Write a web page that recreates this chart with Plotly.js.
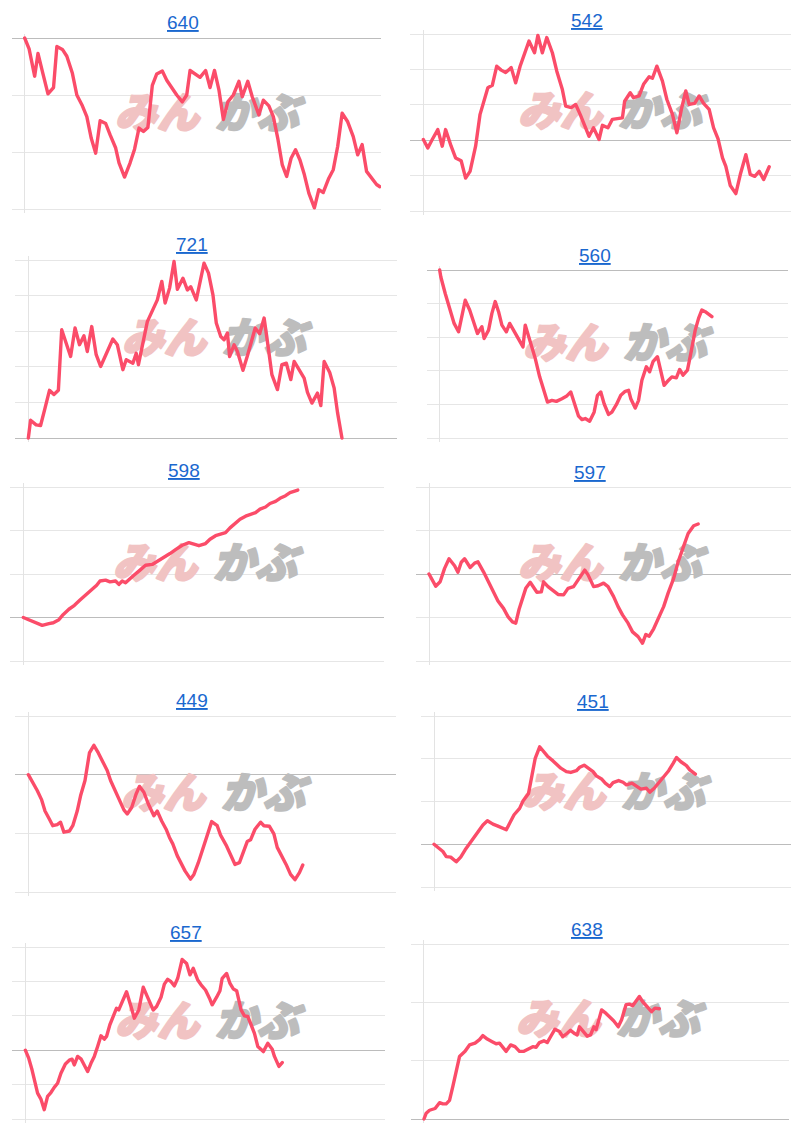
<!DOCTYPE html>
<html>
<head>
<meta charset="utf-8">
<script src="https://cdn.plot.ly/plotly-3.0.1.min.js"></script>
<style>
html,body{margin:0;padding:0;background:#fff;}
#chart{width:800px;height:1134px;}
#chart .scatterlayer .js-line{stroke-linejoin:round;stroke-linecap:round;}
</style>
</head>
<body>
<div id="chart"></div>
<script>
// ---- data ----
const titles = ['640','542','721','560','598','597','449','451','657','638'];

const t1 = [0,4,9,12,16,21,26,29,34,38,43,47,52,56,60,64,68,73,77,82,85,90,95,99,103,107,111,115,119,124,128,133,137,142,146,149,154,158,163,167,171,175,179,183,188,193,196,201,205,211,215,220,224,228,232,236,240,244,248,252,256,261,265,269,274,278,282,286,291,296,300,304,308,313,317,320];
const v1 = [0,-1.9,-6.7,-2.7,-5.9,-9.8,-8.7,-1.5,-2.0,-3.2,-6.2,-10.0,-11.9,-13.8,-17.6,-20.2,-14.5,-15.0,-17.0,-19.3,-21.9,-24.4,-21.9,-19.5,-15.8,-16.4,-15.7,-8.3,-6.3,-5.8,-7.4,-9.0,-10.0,-11.2,-10.0,-5.7,-6.3,-6.9,-5.7,-8.7,-5.7,-9.1,-14.3,-11.2,-10.0,-7.6,-10.3,-7.6,-10.3,-13.5,-10.9,-11.9,-13.8,-17.6,-22.2,-24.3,-21.1,-19.6,-21.4,-24.0,-27.2,-29.8,-26.6,-27.1,-24.6,-23.1,-19.0,-13.2,-14.7,-17.3,-20.5,-18.7,-23.4,-24.6,-25.7,-26.1];

const t2 = [0,4,8,13,17,20,25,29,34,38,42,47,51,55,58,62,66,70,74,79,83,87,91,95,100,103,107,111,116,120,125,128,133,137,141,146,149,153,158,161,166,170,174,179,181,186,189,194,198,203,206,210,215,219,224,228,232,236,239,244,248,252,257,261,265,269,272,276,281,285,290,294,298,302,306,311];
const v2 = [0.2,-2.2,0.2,3.0,-1.7,3.0,-1.7,-5.0,-5.8,-10.7,-8.8,-1.7,7.3,12.0,14.8,15.5,20.9,19.8,19.1,20.5,16.2,20.9,24.7,28.0,24.7,29.6,24.7,29.0,24.7,19.5,14.3,9.6,9.2,10.1,7.3,3.5,1.1,3.5,0.2,4.2,3.5,5.9,6.0,6.3,11.0,13.4,12.0,12.5,15.8,17.9,17.5,20.9,16.7,11.5,7.3,2.1,8.7,13.9,10.1,10.4,12.5,10.4,8.7,3.5,0.4,-5.0,-7.4,-12.8,-15.1,-9.7,-4.1,-9.7,-10.2,-8.8,-11.1,-7.5];

const t3 = [0,2,7,11,15,19,23,27,30,34,38,42,46,50,53,57,61,65,69,73,76,80,85,88,92,94,97,99,107,113,116,120,123,127,131,134,139,143,146,151,158,162,166,169,173,176,179,181,185,188,193,197,200,204,208,212,216,219,224,228,232,236,239,243,248,251,255,260,263,266,271,275,278,282];
const v3 = [0,5.0,3.7,3.5,8.4,13.4,12.2,13.4,30.4,26.7,22.9,30.9,26.2,28.7,24.3,31.3,23.4,20.1,22.9,26.2,27.8,26.2,19.2,22.0,21.5,21.0,23.8,20.6,32.7,36.5,38.8,44.0,37.9,42.1,49.6,41.8,44.9,41.6,42.5,38.8,49.1,46.3,40.2,32.3,28.5,27.6,29.5,22.9,26.2,24.3,19.0,23.1,26.7,30.9,29.3,33.7,24.8,17.8,13.6,20.6,21.0,16.4,21.5,19.2,16.8,12.8,9.8,12.6,9.1,21.5,18.4,14.0,7.2,0];

const t4 = [0,1,5,9,13,17,20,23,27,31,34,38,40,44,47,50,53,56,60,63,68,72,75,77,81,86,90,94,97,101,105,110,114,118,122,125,128,131,135,139,142,145,148,152,155,159,163,167,170,172,176,179,182,186,189,192,196,199,202,206,209,213,216,219,223,226,230,233,236,239,245];
const v4 = [0,-2.0,-7.0,-11.9,-15.9,-18.4,-13.9,-9.0,-11.9,-16.4,-18.9,-16.9,-20.4,-17.9,-12.9,-9.4,-12.4,-16.4,-18.4,-15.9,-18.9,-21.4,-22.9,-16.4,-20.9,-26.3,-31.8,-36.3,-39.3,-38.8,-39.1,-38.3,-37.6,-36.3,-40.3,-43.5,-44.5,-44.2,-45.0,-42.3,-37.3,-36.3,-39.8,-43.0,-42.3,-40.1,-37.3,-36.1,-35.8,-38.3,-41.1,-38.8,-32.8,-28.8,-30.3,-27.3,-25.8,-30.3,-34.3,-32.8,-31.8,-32.1,-29.6,-31.3,-29.8,-24.9,-17.9,-14.4,-11.9,-12.4,-13.9];

const t5 = [0,6,12,17,23,27,32,36,41,46,51,56,62,66,69,74,78,83,86,89,92,95,99,105,110,116,120,126,132,137,143,149,154,158,164,168,173,177,182,186,191,195,200,205,209,213,218,222,227,231,236,240,245,247];
const v5 = [0,-0.6,-1.2,-1.8,-1.4,-1.2,-0.5,0.7,1.9,2.8,4.0,5.1,6.4,7.4,8.4,8.6,8.2,8.4,7.6,8.4,8.0,8.6,9.6,10.9,12.0,12.2,12.8,13.9,14.7,15.6,16.6,17.2,16.9,16.5,17.0,18.0,18.8,19.1,19.5,20.6,21.6,22.6,23.3,23.7,24.1,24.9,25.4,26.2,26.7,27.4,28.0,28.7,29.2,29.3];

const t6 = [0,3,6,10,14,18,23,26,29,32,37,41,44,49,53,58,62,67,71,75,78,81,84,87,91,94,97,101,103,107,112,116,121,125,130,134,140,143,148,152,157,161,166,170,174,179,183,188,192,195,198,202,206,211,215,220,224,229,233,238,242];
const v6 = [0,-1.6,-2.8,-1.8,1.3,3.5,1.9,0.4,2.7,3.5,1.5,2.5,2.8,0.5,-1.6,-4.1,-6.2,-7.9,-9.8,-11.0,-11.3,-8.1,-5.6,-3.3,-1.9,-2.9,-4.2,-4.1,-1.8,-2.9,-3.9,-4.7,-4.8,-3.3,-2.9,-1.4,0.9,-0.2,-2.9,-2.7,-2.1,-2.9,-5.2,-7.5,-9.4,-11.3,-13.3,-14.4,-15.9,-13.9,-14.3,-12.6,-10.2,-7.5,-4.4,-1.0,2.8,6.3,9.3,11.1,11.5];

const t7 = [0,4,8,12,15,19,22,26,29,32,37,40,44,47,51,55,59,63,67,71,74,78,82,86,89,93,97,100,104,108,113,116,120,124,127,130,134,137,141,146,149,153,157,161,165,170,173,178,182,186,190,194,197,200,204,209,212,217,221,224,228,232,236,240,244,247];
const v7 = [0,-1.3,-2.7,-4.3,-6.2,-7.6,-8.7,-8.5,-8.1,-9.8,-9.6,-8.7,-6.2,-3.6,-1.0,3.7,5.0,3.7,2.1,0.7,-1.0,-2.7,-4.4,-6.0,-6.7,-5.6,-3.3,-2.0,-3.0,-5.0,-7.0,-6.2,-7.9,-9.3,-10.7,-11.8,-13.8,-15.0,-16.4,-17.8,-17.0,-15.0,-12.7,-10.1,-8.0,-8.7,-10.3,-12.0,-13.5,-15.3,-15.0,-12.7,-11.4,-11.1,-9.3,-8.1,-8.7,-8.8,-10.1,-12.4,-13.8,-15.3,-17.0,-17.9,-16.7,-15.4];

const t8 = [0,4,8,11,15,20,24,28,32,36,41,44,48,53,57,61,65,68,72,77,80,85,88,91,95,98,102,107,110,114,119,123,128,131,135,139,143,146,151,154,158,161,166,170,173,178,182,186,191,194,198,202,206,211,215,218,222,227,230,235];
const v8 = [0,-0.9,-1.7,-2.9,-3.0,-4.1,-3.0,-1.3,0.2,1.8,3.4,4.5,5.5,4.7,4.3,3.9,3.4,4.9,6.9,8.4,10.1,11.9,15.8,20.1,22.8,21.9,20.6,19.5,18.8,17.8,17.0,16.8,17.2,18.0,18.5,17.8,17.0,16.0,15.2,14.3,13.5,14.4,14.9,14.5,13.9,14.3,13.5,12.9,13.1,12.2,13.1,14.4,15.8,17.2,18.9,20.3,19.3,18.4,17.4,16.4];

const t9 = [0,3,6,9,11,14,17,20,23,26,29,32,36,40,42,44,47,50,53,56,59,62,65,68,71,73,76,80,82,84,87,91,95,98,102,106,109,113,115,118,122,125,128,131,134,137,141,145,148,151,155,158,162,166,168,172,175,177,181,184,187,190,194,197,200,203,206,209,214,218,222,224,228,231];
const v9 = [0,-2.3,-5.7,-9.6,-12.5,-14.2,-17.3,-13.4,-12.3,-10.8,-9.6,-6.7,-4.0,-2.8,-2.6,-4.3,-1.8,-2.5,-4.3,-6.2,-3.8,-1.8,1.1,4.2,3.2,4.0,7.4,10.3,12.2,11.7,14.1,17.0,12.7,9.3,11.7,18.3,16.1,13.2,11.7,12.7,15.4,19.2,20.6,19.9,18.7,20.9,26.4,25.2,21.9,23.8,20.4,19.0,17.5,14.8,13.2,15.4,17.3,20.9,22.3,19.4,17.8,17.3,11.7,10.0,9.8,7.4,4.9,1.1,-0.4,2.0,0.3,-1.8,-4.7,-3.6];

const t10 = [0,2,5,10,14,17,20,23,26,29,32,37,41,46,50,53,57,61,65,68,71,74,78,82,86,90,94,98,101,104,108,111,114,118,122,125,129,132,136,138,140,144,147,150,153,155,160,164,167,171,175,178,182,185,188,194,197,201,205,208,212];
const v10 = [0,1.0,1.5,1.8,2.8,2.6,2.6,3.2,5.6,8.4,10.7,11.6,12.7,13.0,13.6,14.3,13.7,13.3,12.9,13.0,12.4,11.6,12.7,12.4,11.6,11.6,12.0,12.4,12.3,13.1,13.4,13.1,14.1,15.4,15.0,14.1,14.7,15.2,14.6,14.4,15.8,15.0,14.2,14.4,15.8,15.3,18.7,18.1,17.6,16.8,15.8,17.0,19.6,19.7,19.4,21.0,20.1,19.3,18.4,19.0,18.9];

const series = [[t1,v1],[t2,v2],[t3,v3],[t4,v4],[t5,v5],[t6,v6],[t7,v7],[t8,v8],[t9,v9],[t10,v10]];
const gridRanges = [[-30,0],[-20,30],[0,50],[-50,0],[-10,30],[-20,20],[-20,10],[-10,30],[-20,30],[0,30]];
const timeRanges = [[-11.4,321],[-12,330.6],[-12,331.5],[-11.4,313.5],[-12,324.6],[-11.7,325.5],[-12,330.9],[-11.7,321],[-12,323.4],[-11.7,328.8]];
const watermark = ['みん', 'かぶ'];

// ---- layout geometry (pixels) ----
const W = 800, H = 1134, PAD = 4;
const boxes = [
  {l:12, r:381, t:38,  b:209,  tx:183, ty:22,  wx:207, wy:116},
  {l:410,r:791, t:34,  b:211,  tx:587, ty:20,  wx:610, wy:114},
  {l:15, r:397, t:260, b:438,  tx:192, ty:245, wx:214, wy:341},
  {l:427,r:788, t:270, b:438,  tx:595, ty:255, wx:615, wy:346},
  {l:10, r:384, t:487, b:661,  tx:184, ty:470, wx:205, wy:566},
  {l:416,r:791, t:487, b:661,  tx:590, ty:472, wx:610, wy:566},
  {l:15, r:396, t:716, b:892,  tx:192, ty:700, wx:213, wy:796},
  {l:421,r:791, t:716, b:887,  tx:593, ty:701, wx:613, wy:795},
  {l:12, r:385, t:947, b:1119, tx:186, ty:932, wx:207, wy:1024},
  {l:411,r:789, t:944, b:1119, tx:587, ty:929, wx:608, wy:1022}
];

const LINE = '#fb4c69';
const traces = [];
const layout = {
  width: W, height: H,
  margin: {l:0, r:0, t:0, b:0},
  paper_bgcolor: '#ffffff', plot_bgcolor: 'rgba(0,0,0,0)',
  showlegend: false, hovermode: false,
  annotations: [],
  font: {family: 'Liberation Sans, Arial, sans-serif'}
};
const WMFONT = "'Noto Sans CJK JP Black', 'Noto Sans CJK JP', sans-serif";

boxes.forEach((bx, i) => {
  const n = i === 0 ? '' : String(i + 1);
  const [y0, y1] = gridRanges[i];
  const [x0, x1] = timeRanges[i];
  const upp = (y1 - y0) / (bx.b - bx.t);
  layout['xaxis' + n] = {
    domain: [bx.l / W, bx.r / W], range: [x0, x1], anchor: 'y' + n,
    showgrid: false, showticklabels: false, ticks: '', showline: false,
    zeroline: true, zerolinecolor: '#e3e3e3', zerolinewidth: 1, fixedrange: true
  };
  layout['yaxis' + n] = {
    domain: [1 - (bx.b + PAD) / H, 1 - (bx.t - PAD) / H],
    range: [y0 - PAD * upp, y1 + PAD * upp], anchor: 'x' + n,
    tick0: 0, dtick: 10, showgrid: true, gridcolor: '#e6e6e6', gridwidth: 1,
    showticklabels: false, ticks: '', showline: false,
    zeroline: true, zerolinecolor: '#bcbcbc', zerolinewidth: 1, fixedrange: true
  };
  const px2x = p => x0 + (p - bx.l) / (bx.r - bx.l) * (x1 - x0);
  const py2y = p => y1 - (p - bx.t) / (bx.b - bx.t) * (y1 - y0);
  // watermark (drawn below the line)
  traces.push({
    type: 'scatter', mode: 'text', xaxis: 'x' + n, yaxis: 'y' + n,
    x: [px2x(bx.wx - 50)], y: [py2y(bx.wy + 1)], text: [watermark[0]],
    textposition: 'middle center', hoverinfo: 'skip', cliponaxis: false,
    textfont: {family: WMFONT, size: 42, color: '#f1c3c3', weight: 900, style: 'italic'}
  });
  traces.push({
    type: 'scatter', mode: 'text', xaxis: 'x' + n, yaxis: 'y' + n,
    x: [px2x(bx.wx + 50)], y: [py2y(bx.wy + 1)], text: [watermark[1]],
    textposition: 'middle center', hoverinfo: 'skip', cliponaxis: false,
    textfont: {family: WMFONT, size: 42, color: '#bdbdbd', weight: 900, style: 'italic'}
  });
  traces.push({
    type: 'scatter', mode: 'lines', xaxis: 'x' + n, yaxis: 'y' + n,
    x: series[i][0], y: series[i][1],
    line: {color: LINE, width: 3.4, shape: 'linear'}, hoverinfo: 'skip'
  });
  layout.annotations.push({
    text: titles[i], xref: 'paper', yref: 'paper',
    x: bx.tx / W, y: 1 - bx.ty / H, xanchor: 'center', yanchor: 'middle',
    showarrow: false,
    font: {family: 'Liberation Sans, Arial, sans-serif', size: 19, color: '#1a68cf', lineposition: 'under'}
  });
});

Plotly.newPlot('chart', traces, layout, {staticPlot: true, displayModeBar: false}).then(gd => {
  // thicken the watermark glyphs with a stroke of their own colour
  gd.querySelectorAll('.textpoint text').forEach(el => {
    const f = el.style.fill || el.getAttribute('fill');
    if (f) {
      el.style.stroke = f;
      el.style.strokeWidth = '2.2px';
      el.style.strokeLinejoin = 'round';
    }
  });
});
</script>
</body>
</html>
